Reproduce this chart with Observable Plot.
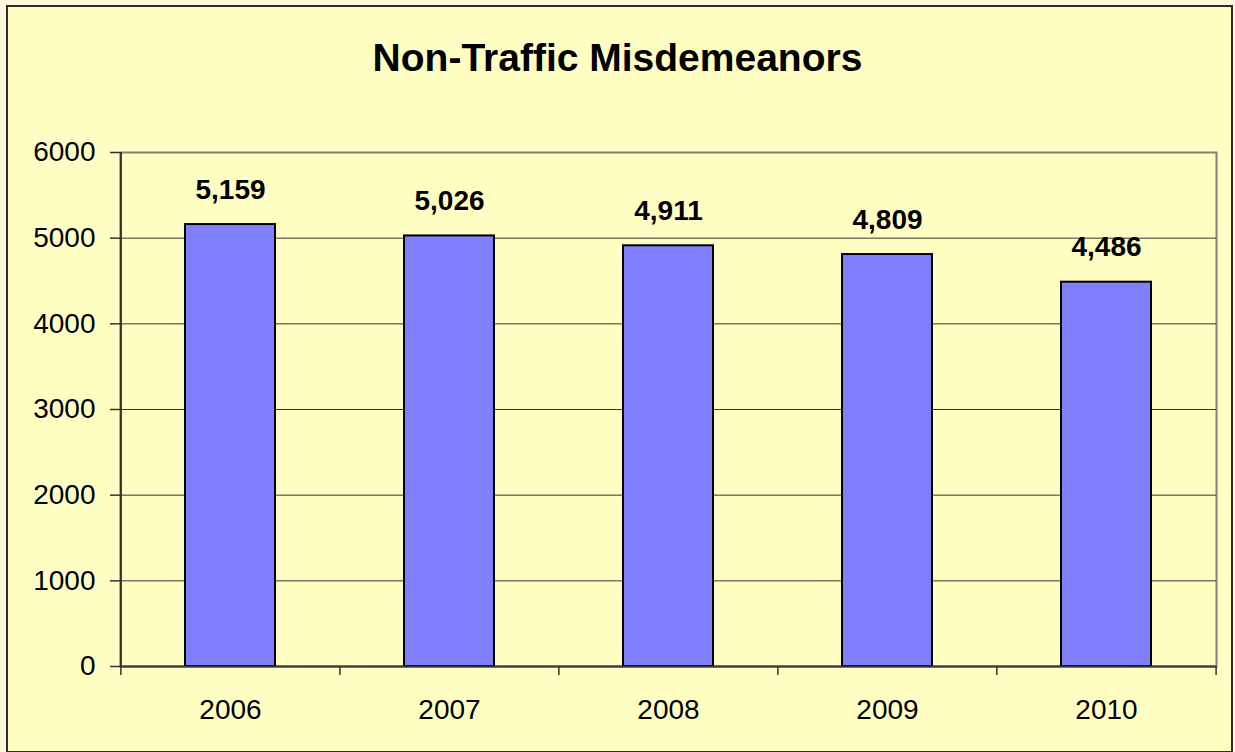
<!DOCTYPE html>
<html>
<head>
<meta charset="utf-8">
<script src="https://cdn.jsdelivr.net/npm/d3@7"></script>
<script src="https://cdn.jsdelivr.net/npm/@observablehq/plot@0.6"></script>
<style>
  html, body { margin: 0; padding: 0; background: #FFF4DC; width: 1235px; height: 752px; overflow: hidden; }
  #frame { position: absolute; left: 6px; top: 5px; width: 1227px; height: 748px; box-sizing: border-box;
           border: 2px solid #2a2a2a; background: #FFFFC4; }
  #title { position: absolute; left: 0; top: 0; width: 1235px; text-align: center;
           font: bold 39px "Liberation Sans", Arial, sans-serif; color: #000; line-height: 1; padding-top: 38px; }
  #chart { position: absolute; left: 0; top: 0; }
  #chart svg { background: transparent; overflow: visible; }
</style>
</head>
<body>
<div id="frame"></div>
<div id="title">Non-Traffic Misdemeanors</div>
<div id="chart"></div>
<script>
const years = ["2006", "2007", "2008", "2009", "2010"];
const counts = [5159, 5026, 4911, 4809, 4486];
const yTicks = [0, 1000, 2000, 3000, 4000, 5000, 6000];

const data = years.map((y, i) => ({year: y, value: counts[i]}));

const W = 1235, H = 752;
const mL = 120, mR = 19, mT = 152, mB = 86;
const step = (W - mL - mR) / years.length;

const chart = Plot.plot({
  width: W,
  height: H,
  marginLeft: mL,
  marginRight: mR,
  marginTop: mT,
  marginBottom: mB,
  style: {fontFamily: "'Liberation Sans', Arial, sans-serif", background: "transparent", color: "#000"},
  x: {domain: years, paddingInner: 0.59, paddingOuter: 0.295, label: null},
  y: {domain: [0, 6000], label: null},
  marks: [
    // plot-area border (gray)
    Plot.frame({stroke: "#808080", strokeWidth: 2}),
    // gridlines
    Plot.ruleY(yTicks.slice(1, -1), {stroke: "#333", strokeWidth: 1}),
    // bars
    Plot.barY(data, {x: "year", y: "value", fill: "#8080FF", stroke: "#000", strokeWidth: 2}),
    // axes
    Plot.axisY(yTicks, {tickSize: 10, tickPadding: 15, fontSize: 28, stroke: "#333", strokeWidth: 1.5, tickFormat: d => String(d)}),
    Plot.axisX({tickSize: 0, tickPadding: 33, fontSize: 28}),
    Plot.ruleX([0], {x: () => years[0], dx: -step / 2, stroke: "#333", strokeWidth: 2}),
    Plot.ruleY([0], {stroke: "#333", strokeWidth: 2}),
    // category boundary tick marks below the axis
    Plot.ruleX(years, {x: d => d, dx: -step / 2, y1: 0, y2: 0, insetBottom: -9, stroke: "#333", strokeWidth: 1.5}),
    Plot.ruleX([years[years.length - 1]], {x: d => d, dx: step / 2, y1: 0, y2: 0, insetBottom: -9, stroke: "#333", strokeWidth: 1.5}),
    // value labels
    Plot.text(data, {x: "year", y: "value", text: d => d3.format(",")(d.value), lineAnchor: "bottom", dy: -26,
                     fontSize: 28, fontWeight: "bold", fill: "#000"})
  ]
});
document.getElementById("chart").appendChild(chart);
</script>
</body>
</html>
